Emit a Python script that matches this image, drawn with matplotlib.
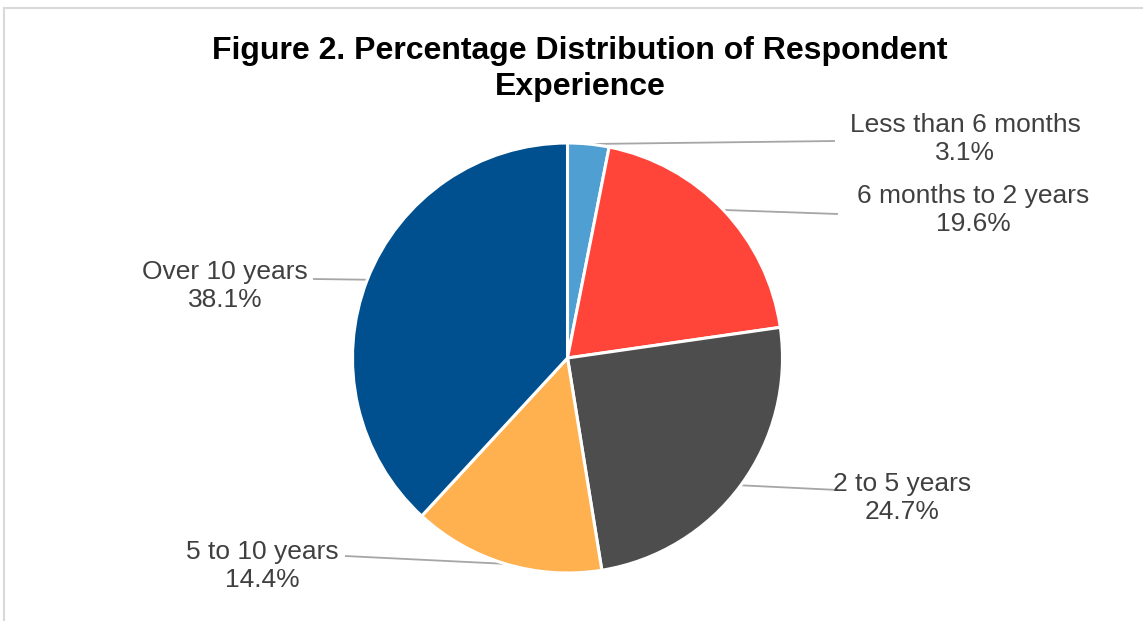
"""Pie chart: percentage distribution of respondent experience."""
import numpy as np
import matplotlib
matplotlib.use("Agg")
import matplotlib.pyplot as plt
from matplotlib.patches import Rectangle

# --- Data ---
CATEGORIES = [
    "Less than 6 months",
    "6 months to 2 years",
    "2 to 5 years",
    "5 to 10 years",
    "Over 10 years",
]
PERCENTS = [3.1, 19.6, 24.7, 14.4, 38.1]
COLORS = ["#4F9FD3", "#FF4539", "#4D4D4D", "#FFB150", "#00508F"]

TITLE = "Figure 2. Percentage Distribution of Respondent\nExperience"

# label block centre (px from top-left) and where the leader line meets the text
LABEL_POS = [(965, 139), (973, 210), (902, 498), (262, 566), (225, 286)]
LINE_END = [(835, 141), (838, 214), (838, 490), (345, 556), (313, 279)]

W, H = 1143, 621
CENTER = (567.5, 358)
RADIUS = 215

plt.rcParams["font.family"] = ["Liberation Sans", "DejaVu Sans"]

fig = plt.figure(figsize=(W / 100, H / 100), dpi=100)
ax = fig.add_axes([0, 0, 1, 1])


def flip(p):
    return (p[0], H - p[1])


wedges, _ = ax.pie(
    PERCENTS,
    colors=COLORS,
    startangle=90,
    counterclock=False,
    center=flip(CENTER),
    radius=RADIUS,
    normalize=True,
    wedgeprops=dict(edgecolor="white", linewidth=2.2),
    frame=True,
)
ax.set_xlim(0, W)
ax.set_ylim(0, H)
ax.set_aspect("equal")
ax.axis("off")

for w, cat, pct, lpos, lend in zip(wedges, CATEGORIES, PERCENTS, LABEL_POS, LINE_END):
    mid = np.deg2rad((w.theta1 + w.theta2) / 2)
    cx, cy = flip(CENTER)
    px = cx + RADIUS * np.cos(mid)
    py = cy + RADIUS * np.sin(mid)
    ex, ey = flip(lend)
    ax.plot([px, ex], [py, ey], color="#A6A6A6", linewidth=1.3,
            solid_capstyle="butt", zorder=0.5)
    tx, ty = flip(lpos)
    ax.text(tx, ty, f"{cat}\n{pct:.1f}%", ha="center", va="center",
            fontsize=19, color="#404040", linespacing=1.17)

ax.text(580, H - 69, TITLE, ha="center", va="center", fontsize=23,
        fontweight="bold", color="black", linespacing=1.28)

# chart area border
ax.add_patch(Rectangle((4, -10), W + 10, H - 8 + 10, fill=False,
                       edgecolor="#D9D9D9", linewidth=1.5, clip_on=False))

fig.savefig("out.png", dpi=100, facecolor="white")
